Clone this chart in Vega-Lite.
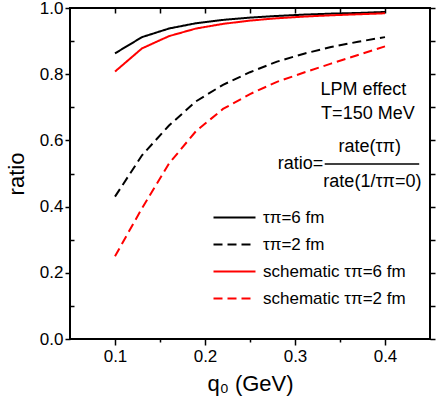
{
  "$schema": "https://vega.github.io/schema/vega-lite/v6.json",
  "width": 360,
  "height": 331,
  "autosize": {"type": "none"},
  "padding": {"left": 70, "top": 8, "right": 6, "bottom": 70},
  "background": "white",
  "config": {
    "view": {"stroke": "black", "strokeWidth": 2},
    "font": "Liberation Sans",
    "axis": {
      "domain": false,
      "grid": false,
      "tickColor": "black",
      "tickWidth": 1.5,
      "labelColor": "black",
      "labelFont": "Liberation Sans",
      "labelFontSize": 17,
      "titleFont": "Liberation Sans",
      "titleFontWeight": "normal",
      "titleColor": "black"
    }
  },
  "datasets": {
    "curves": [
      {"series": "τπ=6 fm", "q0": 0.10, "ratio": 0.863},
      {"series": "τπ=6 fm", "q0": 0.13, "ratio": 0.912},
      {"series": "τπ=6 fm", "q0": 0.16, "ratio": 0.938},
      {"series": "τπ=6 fm", "q0": 0.19, "ratio": 0.954},
      {"series": "τπ=6 fm", "q0": 0.22, "ratio": 0.964},
      {"series": "τπ=6 fm", "q0": 0.25, "ratio": 0.971},
      {"series": "τπ=6 fm", "q0": 0.28, "ratio": 0.976},
      {"series": "τπ=6 fm", "q0": 0.31, "ratio": 0.980},
      {"series": "τπ=6 fm", "q0": 0.34, "ratio": 0.983},
      {"series": "τπ=6 fm", "q0": 0.37, "ratio": 0.985},
      {"series": "τπ=6 fm", "q0": 0.40, "ratio": 0.988},
      {"series": "τπ=2 fm", "q0": 0.10, "ratio": 0.430},
      {"series": "τπ=2 fm", "q0": 0.13, "ratio": 0.555},
      {"series": "τπ=2 fm", "q0": 0.16, "ratio": 0.645},
      {"series": "τπ=2 fm", "q0": 0.19, "ratio": 0.718},
      {"series": "τπ=2 fm", "q0": 0.22, "ratio": 0.768},
      {"series": "τπ=2 fm", "q0": 0.25, "ratio": 0.806},
      {"series": "τπ=2 fm", "q0": 0.28, "ratio": 0.838},
      {"series": "τπ=2 fm", "q0": 0.31, "ratio": 0.862},
      {"series": "τπ=2 fm", "q0": 0.34, "ratio": 0.882},
      {"series": "τπ=2 fm", "q0": 0.37, "ratio": 0.898},
      {"series": "τπ=2 fm", "q0": 0.40, "ratio": 0.912},
      {"series": "schematic τπ=6 fm", "q0": 0.10, "ratio": 0.808},
      {"series": "schematic τπ=6 fm", "q0": 0.13, "ratio": 0.878},
      {"series": "schematic τπ=6 fm", "q0": 0.16, "ratio": 0.915},
      {"series": "schematic τπ=6 fm", "q0": 0.19, "ratio": 0.938},
      {"series": "schematic τπ=6 fm", "q0": 0.22, "ratio": 0.952},
      {"series": "schematic τπ=6 fm", "q0": 0.25, "ratio": 0.962},
      {"series": "schematic τπ=6 fm", "q0": 0.28, "ratio": 0.969},
      {"series": "schematic τπ=6 fm", "q0": 0.31, "ratio": 0.974},
      {"series": "schematic τπ=6 fm", "q0": 0.34, "ratio": 0.978},
      {"series": "schematic τπ=6 fm", "q0": 0.37, "ratio": 0.981},
      {"series": "schematic τπ=6 fm", "q0": 0.40, "ratio": 0.984},
      {"series": "schematic τπ=2 fm", "q0": 0.10, "ratio": 0.250},
      {"series": "schematic τπ=2 fm", "q0": 0.13, "ratio": 0.395},
      {"series": "schematic τπ=2 fm", "q0": 0.16, "ratio": 0.530},
      {"series": "schematic τπ=2 fm", "q0": 0.19, "ratio": 0.628},
      {"series": "schematic τπ=2 fm", "q0": 0.22, "ratio": 0.695},
      {"series": "schematic τπ=2 fm", "q0": 0.25, "ratio": 0.740},
      {"series": "schematic τπ=2 fm", "q0": 0.28, "ratio": 0.777},
      {"series": "schematic τπ=2 fm", "q0": 0.31, "ratio": 0.805},
      {"series": "schematic τπ=2 fm", "q0": 0.34, "ratio": 0.832},
      {"series": "schematic τπ=2 fm", "q0": 0.37, "ratio": 0.858},
      {"series": "schematic τπ=2 fm", "q0": 0.40, "ratio": 0.884}
    ],
    "notes": [
      {"q0": 0.376, "ratio": 0.752, "text": "LPM effect"},
      {"q0": 0.381, "ratio": 0.680, "text": "T=150 MeV"},
      {"q0": 0.383, "ratio": 0.580, "text": "rate(τπ)"},
      {"q0": 0.306, "ratio": 0.529, "text": "ratio="},
      {"q0": 0.386, "ratio": 0.474, "text": "rate(1/τπ=0)"}
    ],
    "bar": [
      {"q0": 0.333, "q1": 0.438, "ratio": 0.529}
    ]
  },
  "layer": [
    {
      "data": {"name": "curves"},
      "mark": {"type": "line", "strokeWidth": 2},
      "encoding": {
        "x": {
          "field": "q0", "type": "quantitative",
          "scale": {"domain": [0.05, 0.45], "nice": false, "zero": false},
          "axis": {
            "orient": "bottom",
            "values": [0.1, 0.15, 0.2, 0.25, 0.3, 0.35, 0.4],
            "format": ".1f",
            "labelExpr": "round(datum.value*100) % 10 == 0 ? datum.label : ''",
            "tickSize": {"condition": {"test": "round(datum.value*100) % 10 != 0", "value": 3}, "value": 6},
            "labelPadding": 3,
            "title": "q₀ (GeV)",
            "titleFontSize": 22,
            "titlePadding": 9
          }
        },
        "y": {
          "field": "ratio", "type": "quantitative",
          "scale": {"domain": [0, 1], "nice": false, "zero": false},
          "axis": {
            "orient": "left",
            "values": [0, 0.1, 0.2, 0.3, 0.4, 0.5, 0.6, 0.7, 0.8, 0.9, 1.0],
            "format": ".1f",
            "labelExpr": "round(datum.value*10) % 2 == 0 ? datum.label : ''",
            "tickSize": {"condition": {"test": "round(datum.value*10) % 2 == 1", "value": -4}, "value": 5},
            "labelPadding": 2,
            "title": "ratio",
            "titleFontSize": 22,
            "titlePadding": 11
          }
        },
        "color": {
          "field": "series", "type": "nominal",
          "scale": {
            "domain": ["τπ=6 fm", "τπ=2 fm", "schematic τπ=6 fm", "schematic τπ=2 fm"],
            "range": ["#000000", "#000000", "#ff0000", "#ff0000"]
          },
          "legend": {
            "orient": "none", "legendX": 153, "legendY": 198, "title": null,
            "symbolType": "M-2,0H2", "symbolSize": 441, "symbolStrokeWidth": 2,
            "labelFontSize": 17, "labelFont": "Liberation Sans", "labelColor": "black",
            "labelOffset": 17, "rowPadding": 7, "labelLimit": 300
          }
        },
        "strokeDash": {
          "field": "series", "type": "nominal",
          "scale": {
            "domain": ["τπ=6 fm", "τπ=2 fm", "schematic τπ=6 fm", "schematic τπ=2 fm"],
            "range": [[1, 0], [9, 5], [1, 0], [9, 5]]
          },
          "legend": {
            "orient": "none", "legendX": 153, "legendY": 198, "title": null,
            "symbolType": "M-2,0H2", "symbolSize": 441, "symbolStrokeWidth": 2,
            "labelFontSize": 17, "labelFont": "Liberation Sans", "labelColor": "black",
            "labelOffset": 17, "rowPadding": 7, "labelLimit": 300
          }
        }
      }
    },
    {
      "data": {"name": "curves"},
      "mark": {"type": "point", "opacity": 0},
      "encoding": {
        "x": {
          "field": "q0", "type": "quantitative",
          "axis": {
            "orient": "top",
            "values": [0.1, 0.15, 0.2, 0.25, 0.3, 0.35, 0.4],
            "labels": false, "title": null, "tickSize": -5
          }
        },
        "y": {
          "field": "ratio", "type": "quantitative",
          "axis": {
            "orient": "right",
            "values": [0, 0.1, 0.2, 0.3, 0.4, 0.5, 0.6, 0.7, 0.8, 0.9, 1.0],
            "labels": false, "title": null, "tickSize": 5
          }
        }
      }
    },
    {
      "data": {"name": "notes"},
      "mark": {"type": "text", "fontSize": 18, "font": "Liberation Sans", "color": "black", "align": "center", "baseline": "middle"},
      "encoding": {
        "x": {"field": "q0", "type": "quantitative", "axis": null},
        "y": {"field": "ratio", "type": "quantitative", "axis": null},
        "text": {"field": "text"}
      }
    },
    {
      "data": {"name": "bar"},
      "mark": {"type": "rule", "color": "black", "strokeWidth": 1.5},
      "encoding": {
        "x": {"field": "q0", "type": "quantitative", "axis": null},
        "x2": {"field": "q1"},
        "y": {"field": "ratio", "type": "quantitative", "axis": null}
      }
    }
  ],
  "resolve": {"axis": {"x": "independent", "y": "independent"}}
}
